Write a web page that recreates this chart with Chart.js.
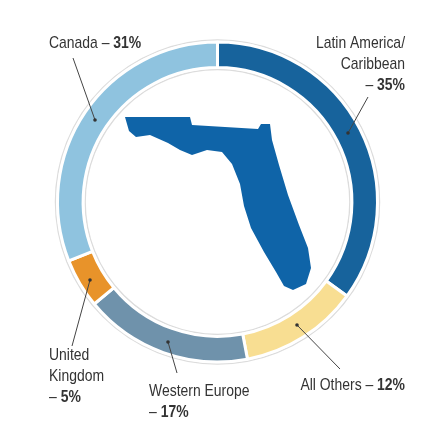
<!DOCTYPE html>
<html lang="en">
<head>
  <meta charset="UTF-8" />
  <title>Visitors to Florida</title>
  <style>
    body { margin: 0; background: white; }
    .chart-container { width: 437px; height: 443px; }
  </style>
  <script src="https://cdn.jsdelivr.net/npm/chart.js"></script>
</head>
<body>
  <div class="chart-container">
    <canvas id="originChart"></canvas>
  </div>

  <script>
    const regions = ["Latin America/Caribbean", "All Others", "Western Europe", "United Kingdom", "Canada"];
    const shares = [35, 12, 17, 5, 31];
    const colors = ["#17639c", "#f8de92", "#6f92ab", "#e8932a", "#8fc3df"];

    const FONT = "'Liberation Sans Narrow', 'Liberation Sans', sans-serif";
    const SQUEEZE = 0.82; // condensed look

    // label text lines: [regular, bold] pieces, plus leader line
    const labels = [
      { align: "right", x: 405, lines: [["Latin America/", ""], ["Caribbean", ""], ["– ", "35%"]], y: 43, from: [368, 97], to: [348, 133] },
      { align: "right", x: 405, lines: [["All Others – ", "12%"]], y: 385, from: [340, 369], to: [297, 325] },
      { align: "left", x: 149, lines: [["Western Europe", ""], ["– ", "17%"]], y: 391, from: [177, 373], to: [168, 342] },
      { align: "left", x: 49, lines: [["United", ""], ["Kingdom", ""], ["– ", "5%"]], y: 355, from: [72, 346], to: [90, 280] },
      { align: "left", x: 49, lines: [["Canada – ", "31%"]], y: 43, from: [73, 58], to: [95, 120] }
    ];

    // rough Florida outline (decoration)
    const florida = [[125,117],[190,117],[192,125],[258,129],[261,124],[270,124],[272,140],[279,165],[288,195],[299,225],[308,248],[311,268],[306,284],[293,290],[284,286],[276,272],[264,252],[251,228],[244,206],[240,184],[232,164],[222,152],[207,150],[192,155],[180,150],[168,143],[150,135],[136,137],[129,131]];

    const decor = {
      id: "decor",
      beforeDatasetsDraw(chart) {
        const c = chart.ctx;
        const m = chart.getDatasetMeta(0).data[0];
        c.save();
        c.strokeStyle = "#dcdcdc";
        c.lineWidth = 1.5;
        c.beginPath(); c.arc(m.x, m.y, m.outerRadius + 2, 0, Math.PI * 2); c.stroke();
        c.beginPath(); c.arc(m.x, m.y, m.innerRadius - 2, 0, Math.PI * 2); c.stroke();
        c.fillStyle = "#0f64a8";
        c.beginPath();
        florida.forEach((p, i) => i ? c.lineTo(p[0], p[1]) : c.moveTo(p[0], p[1]));
        c.closePath(); c.fill();
        c.restore();
      },
      afterDraw(chart) {
        const c = chart.ctx;
        c.save();
        labels.forEach(l => {
          c.strokeStyle = "#444"; c.lineWidth = 1;
          c.beginPath(); c.moveTo(l.from[0], l.from[1]); c.lineTo(l.to[0], l.to[1]); c.stroke();
          c.fillStyle = "#333";
          c.beginPath(); c.arc(l.to[0], l.to[1], 1.8, 0, Math.PI * 2); c.fill();
          c.textBaseline = "middle";
          c.textAlign = "left";
          l.lines.forEach((ln, i) => {
            const y = l.y + i * 21;
            c.font = "17px " + FONT;
            const w1 = c.measureText(ln[0]).width * SQUEEZE;
            c.font = "bold 17px " + FONT;
            const w2 = c.measureText(ln[1]).width * SQUEEZE;
            const x = l.align === "right" ? l.x - w1 - w2 : l.x;
            c.save();
            c.translate(x, y);
            c.scale(SQUEEZE, 1);
            c.font = "17px " + FONT;
            c.fillText(ln[0], 0, 0);
            c.font = "bold 17px " + FONT;
            c.fillText(ln[1], w1 / SQUEEZE, 0);
            c.restore();
          });
        });
        c.restore();
      }
    };

    new Chart(document.getElementById("originChart"), {
      type: "doughnut",
      data: {
        labels: regions,
        datasets: [{
          data: shares,
          backgroundColor: colors,
          borderColor: "#ffffff",
          borderWidth: 3,
          hoverOffset: 0
        }]
      },
      options: {
        responsive: true,
        maintainAspectRatio: false,
        animation: false,
        radius: 160,
        cutout: "84%",
        layout: { padding: { bottom: 39, left: 0, right: 2 } },
        plugins: { legend: { display: false }, tooltip: { enabled: false } }
      },
      plugins: [decor]
    });
  </script>
</body>
</html>
